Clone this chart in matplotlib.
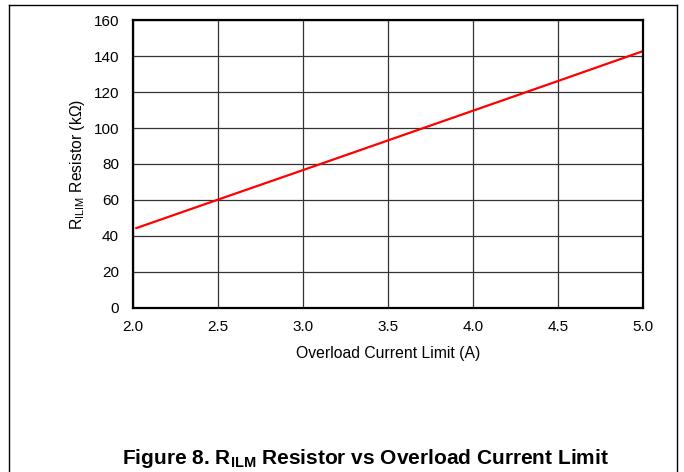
import matplotlib
matplotlib.use("Agg")
import matplotlib.pyplot as plt
from matplotlib.lines import Line2D

plt.rcParams["font.family"] = ["Liberation Sans", "DejaVu Sans"]
plt.rcParams["mathtext.fontset"] = "custom"
plt.rcParams["mathtext.rm"] = "Liberation Sans"
plt.rcParams["mathtext.it"] = "Liberation Sans:italic"
plt.rcParams["mathtext.bf"] = "Liberation Sans:bold"

# Data
current_a = [2.02, 2.5, 3.0, 3.5, 4.0, 4.5, 5.0]
resistor_kohm = [44.4, 60.2, 76.6, 93.1, 109.6, 126.1, 142.7]
x_ticks = [2.0, 2.5, 3.0, 3.5, 4.0, 4.5, 5.0]
y_ticks = [0, 20, 40, 60, 80, 100, 120, 140, 160]

fig = plt.figure(figsize=(6.84, 4.72), dpi=100)
ax = fig.add_axes([0.1944, 0.3475, 0.7456, 0.6101])

ax.plot(current_a, resistor_kohm, color="#ff0000", linewidth=1.6)

ax.set_xlim(2.0, 5.0)
ax.set_ylim(0, 160)
ax.set_xticks(x_ticks)
ax.set_xticklabels([f"{v:.1f}" for v in x_ticks])
ax.set_yticks(y_ticks)
ax.tick_params(length=0, labelsize=11)
ax.tick_params(axis="x", pad=9)
ax.tick_params(axis="y", pad=10)
ax.grid(True, color="#333333", linewidth=0.9)
ax.set_axisbelow(True)
for s in ax.spines.values():
    s.set_linewidth(1.6)

ax.set_xlabel("Overload Current Limit (A)", fontsize=11.3, labelpad=8)
ax.set_ylabel(r"R$_{\mathregular{ILIM}}$ Resistor (kΩ)", fontsize=11.3, labelpad=5)

fig.text(0.535, 0.018, r"Figure 8. R$_{\mathbf{ILM}}$ Resistor vs Overload Current Limit",
         fontsize=15, fontweight="bold", ha="center", va="baseline")

# page frame
fig.add_artist(Line2D([9 / 684, 9 / 684], [0, 1 - 5 / 472], color="black", linewidth=1.0))
fig.add_artist(Line2D([9 / 684, 677 / 684], [1 - 5 / 472, 1 - 5 / 472], color="black", linewidth=1.0))
fig.add_artist(Line2D([677 / 684, 677 / 684], [0, 1 - 5 / 472], color="black", linewidth=1.0))

fig.savefig("out.png", dpi=100)
